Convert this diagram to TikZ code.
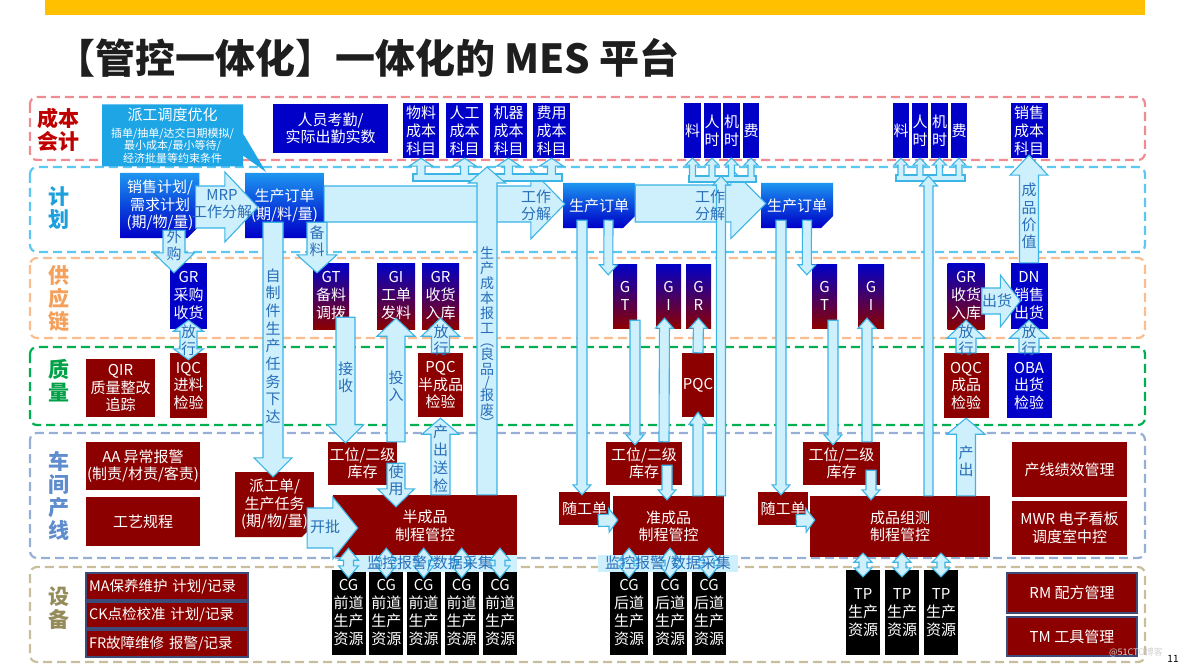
\documentclass[tikz,border=0pt]{standalone}
\usepackage{fontspec}
\setmainfont{Noto Sans CJK SC}
\usetikzlibrary{calc,shapes.misc,shapes.callouts}

\definecolor{goldbar}{RGB}{255,192,0}
\definecolor{dred}{RGB}{140,0,0}
\definecolor{dblue}{RGB}{0,0,200}
\definecolor{skyb}{RGB}{30,150,240}
\definecolor{mblue}{RGB}{10,70,220}
\definecolor{calb}{RGB}{30,165,230}
\definecolor{purp}{RGB}{70,0,100}
\definecolor{afill}{RGB}{205,240,252}
\definecolor{aline}{RGB}{60,180,230}
\definecolor{atext}{RGB}{40,110,185}
\definecolor{mbord}{RGB}{60,75,120}
% lane colours
\definecolor{lcost}{RGB}{240,140,145}
\definecolor{lplan}{RGB}{90,200,240}
\definecolor{lsup}{RGB}{248,190,145}
\definecolor{lqual}{RGB}{0,176,80}
\definecolor{lshop}{RGB}{150,175,215}
\definecolor{ldev}{RGB}{200,190,155}
\definecolor{tcost}{RGB}{192,0,0}
\definecolor{tplan}{RGB}{30,160,220}
\definecolor{tsup}{RGB}{245,160,90}
\definecolor{tqual}{RGB}{0,160,70}
\definecolor{tshop}{RGB}{95,140,205}
\definecolor{tdev}{RGB}{150,140,90}

% block arrow: [opts]{from}{to}{body half}{head half}{head length}
\newcommand{\blk}[6][]{%
  \draw[arr,#1] let \p1=#2, \p2=#3,
    \n1={atan2(\y2-\y1,\x2-\x1)}, \n2={veclen(\x2-\x1,\y2-\y1)} in
    ($(\p1)+(\n1+90:#4pt)$)
    -- ($(\p1)+(\n1:\n2-#6pt)+(\n1+90:#4pt)$)
    -- ($(\p1)+(\n1:\n2-#6pt)+(\n1+90:#5pt)$)
    -- (\p2)
    -- ($(\p1)+(\n1:\n2-#6pt)+(\n1-90:#5pt)$)
    -- ($(\p1)+(\n1:\n2-#6pt)+(\n1-90:#4pt)$)
    -- ($(\p1)+(\n1-90:#4pt)$) -- cycle;}
% double headed block arrow
\newcommand{\dblk}[6][]{%
  \draw[arr,#1] let \p1=#2, \p2=#3,
    \n1={atan2(\y2-\y1,\x2-\x1)}, \n2={veclen(\x2-\x1,\y2-\y1)} in
    (\p1)
    -- ($(\p1)+(\n1:#6pt)+(\n1+90:#5pt)$)
    -- ($(\p1)+(\n1:#6pt)+(\n1+90:#4pt)$)
    -- ($(\p1)+(\n1:\n2-#6pt)+(\n1+90:#4pt)$)
    -- ($(\p1)+(\n1:\n2-#6pt)+(\n1+90:#5pt)$)
    -- (\p2)
    -- ($(\p1)+(\n1:\n2-#6pt)+(\n1-90:#5pt)$)
    -- ($(\p1)+(\n1:\n2-#6pt)+(\n1-90:#4pt)$)
    -- ($(\p1)+(\n1:#6pt)+(\n1-90:#4pt)$)
    -- ($(\p1)+(\n1:#6pt)+(\n1-90:#5pt)$)
    -- cycle;}

\begin{document}
\begin{tikzpicture}[x=1pt,y=-1pt,
    lane/.style={dash pattern=on 9pt off 5pt, line width=2.2pt, rounded corners=7pt},
    lanelbl/.style={font=\fontsize{21}{23}\selectfont\bfseries, align=center, inner sep=0pt},
    sz/.style 2 args={minimum width=#1pt, minimum height=#2pt},
    bx/.style={inner sep=0pt, align=center, text=white, font=\fontsize{15}{17.5}\selectfont},
    rbox/.style={bx, fill=dred},
    bbox/.style={bx, fill=dblue},
    cbox/.style={bbox, font=\fontsize{15}{18}\selectfont},
    kbox/.style={bx, fill=black, font=\fontsize{15}{18.3}\selectfont},
    gbox/.style={bx, top color=dblue, bottom color=dred, middle color=purp, font=\fontsize{15}{18}\selectfont},
    cham/.style={chamfered rectangle, chamfered rectangle corners=south east,
      chamfered rectangle xsep=6pt, chamfered rectangle ysep=6pt},
    pbox/.style={bx, cham, top color=skyb, bottom color=dblue, middle color=mblue},
    mbox/.style={rbox, draw=mbord, line width=1.5pt},
    ebox/.style={mbox, text width=156pt, align=left, font=\fontsize{14.5}{16}\selectfont},
    arr/.style={fill=afill, draw=aline, line width=1.1pt},
    atxt/.style={text=atext, font=\fontsize{15}{17}\selectfont, align=center, inner sep=0pt},
  ]
\useasboundingbox (0,0) rectangle (1184,666);

% --- title ---
\fill[goldbar] (45,0) rectangle (1145,15);
\node[anchor=west, inner sep=0pt, text={rgb,255:red,30;green,30;blue,30},
  font=\fontsize{40}{44}\selectfont\bfseries] (title) at (55,58) {【管控一体化】一体化的 MES 平台};

% --- lanes ---
\draw[lane, lcost] (30,97) rectangle (1145,160);
\draw[lane, lplan] (30,167) rectangle (1145,252);
\draw[lane, lsup] (30,258) rectangle (1145,338);
\draw[lane, lqual] (30,347) rectangle (1145,425);
\draw[lane, lshop] (30,433) rectangle (1145,558);
\draw[lane, ldev] (30,567) rectangle (1145,662);
\node[lanelbl, tcost] (lcost) at (58,130) {成本\\会计};
\node[lanelbl, tplan] (lplan) at (59,208) {计\\划};
\node[lanelbl, tsup] (lsup) at (59,299) {供\\应\\链};
\node[lanelbl, tqual] (lqual) at (59,381) {质\\量};
\node[lanelbl, tshop] (lshop) at (59,496) {车\\间\\产\\线};
\node[lanelbl, tdev] (ldev) at (59,608) {设\\备};

% --- 成本会计 ---
\node[bx, rectangle callout, fill=calb, sz={141}{62}, font=\fontsize{11}{12.5}\selectfont,
  callout absolute pointer={(266,172)}, callout pointer width=22pt] (pgyh) at (172.5,135.5)
  {{\fontsize{15}{15}\selectfont 派工调度优化}\\[4pt]插单/抽单/达交日期模拟/\\最小成本/最小等待/\\经济批量等约束条件};
\node[bbox, sz={115}{49}] (kq) at (330.5,128.5) {人员考勤/\\实际出勤实数};
\node[cbox, sz={36}{55}] (cm) at (421,130.5) {物料\\成本\\科目};
\node[cbox, sz={37}{55}] (cr) at (464.5,130.5) {人工\\成本\\科目};
\node[cbox, sz={37}{55}] (cj) at (508.5,130.5) {机器\\成本\\科目};
\node[cbox, sz={37}{55}] (cf) at (551.5,130.5) {费用\\成本\\科目};
\node[cbox, sz={17}{55}] (al) at (692.5,130.5) {料};
\node[cbox, sz={17}{55}] (ar) at (712,130.5) {人\\时};
\node[cbox, sz={17}{55}] (aj) at (731.5,130.5) {机\\时};
\node[cbox, sz={16}{55}] (af) at (751,130.5) {费};
\node[cbox, sz={16}{55}] (bl) at (901,130.5) {料};
\node[cbox, sz={16}{55}] (br) at (920,130.5) {人\\时};
\node[cbox, sz={17}{55}] (bj) at (939.5,130.5) {机\\时};
\node[cbox, sz={16}{55}] (bf) at (959,130.5) {费};
\node[cbox, sz={37}{55}] (xscb) at (1029,130.5) {销售\\成本\\科目};

% --- 计划 ---
\node[pbox, sz={72}{65}] (xsjh) at (160,205.5) {销售计划/\\需求计划\\(期/物/量)};
\node[pbox, sz={75}{65}] (sddd1) at (284.5,205.5) {生产订单\\(期/料/量)};
\node[pbox, sz={68}{45}] (sddd2) at (599,205.5) {生产订单};
\node[pbox, sz={68}{45}] (sddd3) at (797,205.5) {生产订单};

% --- 供应链 ---
\node[cbox, sz={37}{66}] (grcg) at (188.5,296) {GR\\采购\\收货};
\node[gbox, sz={36}{66}] (gt1) at (331,296) {GT\\备料\\调拨};
\node[gbox, sz={38}{66}] (gi1) at (396,296) {GI\\工单\\发料};
\node[gbox, sz={37}{66}] (gr1) at (440.5,296) {GR\\收货\\入库};
\node[gbox, sz={24}{64}] (gt2) at (625,296) {G\\T};
\node[gbox, sz={25}{64}] (gi2) at (668.5,296) {G\\I};
\node[gbox, sz={25}{64}] (gr2) at (698.5,296) {G\\R};
\node[gbox, sz={25}{64}] (gt3) at (824.5,296) {G\\T};
\node[gbox, sz={26}{64}] (gi3) at (871,296) {G\\I};
\node[gbox, sz={37}{66}] (gr3) at (966,296) {GR\\收货\\入库};
\node[cbox, sz={37}{66}] (dn) at (1029,296) {DN\\销售\\出货};

% --- 质量 ---
\node[rbox, sz={69}{58}] (qir) at (120.5,388) {QIR\\质量整改\\追踪};
\node[rbox, sz={37}{65}] (iqc) at (188.5,385.5) {IQC\\进料\\检验};
\node[rbox, sz={45}{64}] (pqc1) at (440.5,385) {PQC\\半成品\\检验};
\node[rbox, sz={32}{64}] (pqc2) at (698,385) {PQC};
\node[rbox, sz={45}{65}] (oqc) at (966,385.5) {OQC\\成品\\检验};
\node[bbox, sz={45}{65}] (oba) at (1029,385.5) {OBA\\出货\\检验};

% --- 车间产线 ---
\node[rbox, sz={114}{48}] (aa) at (143,466) {AA 异常报警\\(制责/材责/客责)};
\node[rbox, sz={114}{49}] (gygc) at (143,521.5) {工艺规程};
\node[rbox, cham, sz={75}{65}] (pgd) at (274.5,504.5) {派工单/\\生产任务\\(期/物/量)};
\node[rbox, sz={69}{43}] (gw1) at (362.5,463.5) {工位/二级\\库存};
\node[rbox, sz={184}{62}] (bcp) at (425,526) {半成品\\制程管控};
\node[rbox, sz={76}{43}] (gw2) at (644,463.5) {工位/二级\\库存};
\node[rbox, sz={51}{33}] (sgd2) at (584.5,508.5) {随工单};
\node[rbox, sz={111}{61}] (zcp) at (668.5,526.5) {准成品\\制程管控};
\node[rbox, sz={77}{43}] (gw3) at (841.5,463.5) {工位/二级\\库存};
\node[rbox, sz={50}{33}] (sgd3) at (783,508.5) {随工单};
\node[rbox, sz={180}{61}] (cpzc) at (900,526.5) {成品组测\\制程管控};
\node[rbox, sz={115}{55}] (cxjx) at (1069.5,469.5) {产线绩效管理};
\node[rbox, sz={115}{54}] (mwr) at (1069.5,528) {MWR 电子看板\\调度室中控};

% --- 设备 ---
\node[ebox, sz={162}{27}] (ma) at (167,586.5) {MA保养维护 计划/记录};
\node[ebox, sz={162}{26}] (ck) at (167,615) {CK点检校准 计划/记录};
\node[ebox, sz={162}{27}] (fr) at (167,643.5) {FR故障维修 报警/记录};
\node[mbox, sz={130}{40}] (rm) at (1072,593) {RM 配方管理};
\node[mbox, sz={130}{39}] (tm) at (1072,636.5) {TM 工具管理};
\foreach \i/\cx in {1/348.5,2/386.3,3/423.7,4/461.7,5/500}
  \node[kbox, sz={34}{85}] (cg\i) at (\cx,612.5) {CG\\前道\\生产\\资源};
\foreach \i/\cx/\w in {1/629/38,2/670/34,3/709/34}
  \node[kbox, sz={\w}{85}] (cgh\i) at (\cx,612.5) {CG\\后道\\生产\\资源};
\foreach \i/\cx in {1/863,2/902,3/941}
  \node[kbox, sz={34}{85}] (tp\i) at (\cx,612.5) {TP\\生产\\资源};

% --- 计划 big arrows ---
\blk{($(xsjh.east)+(-4,1.5)$)}{($(sddd1.west)+(13,1.5)$)}{21}{35}{33}
\blk{($(sddd1.east)+(0,-1.5)$)}{($(sddd2.west)+(2,-1.5)$)}{18}{35}{34}
\blk{($(sddd2.east)+(0,-2)$)}{($(sddd3.west)+(5,-2)$)}{18.5}{35}{35}

% --- cost forks ---
\coordinate (fk1) at (487,177);
\coordinate (fk2) at (721,179);
\coordinate (fk3) at (928.5,178);
\draw[arr] (413,174) rectangle (562,181);
\foreach \c in {cm,cr,cj,cf} {\blk{(\c.south |- fk1)}{(\c.south)}{4}{12}{8}}
\fill[afill] (414,175) rectangle (561,180);
\draw[arr] (689,176) rectangle (756,182);
\foreach \c in {al,ar,aj,af} {\blk{(\c.south |- fk2)}{(\c.south)}{3}{7}{7}}
\fill[afill] (690,177) rectangle (755,181);
\draw[arr] (896,175) rectangle (965,181);
\foreach \c in {bl,br,bj,bf} {\blk{(\c.south |- fk3)}{(\c.south)}{3}{7}{7}}
\fill[afill] (897,176) rectangle (964,180);
\blk{(bcp.north -| fk1)}{($(fk1)+(0,-10)$)}{10}{18.5}{16}
\blk{(zcp.north -| fk2)}{($(fk2)+(0,-3)$)}{4.5}{8}{9}
\blk{(cpzc.north -| fk3)}{($(fk3)+(0,-2)$)}{4.5}{9}{10}

% --- column 1 ---
\blk{($(xsjh.south)+(14,-8)$)}{($(grcg.north)+(-14.5,10)$)}{11}{20.5}{20}
\dblk{($(grcg.south)+(0,-9)$)}{($(iqc.north)+(0,7)$)}{8.5}{15}{11}
\blk{($(sddd1.south)+(32.5,-16)$)}{($(gt1.north)+(-14,10)$)}{10}{20}{18}
\blk{($(sddd1.south)+(-11.5,-16)$)}{($(pgd.north)+(-1.5,5)$)}{10}{19}{19}
\blk{($(gt1.south)+(14.5,-12)$)}{($(gw1.north)+(-17,1)$)}{9.5}{18}{18}
\blk{(gi1.south |- gw1.north)}{($(gi1.south)+(0,-11)$)}{9}{19}{18}
\blk{(pqc1.north)}{($(gr1.south)+(0,-11)$)}{9}{19}{18}
\blk{(pqc1.south |- bcp.north)}{($(pqc1.south)+(0,1)$)}{9.5}{18.5}{16}
\blk{($(gw1.south)+(33.5,-22)$)}{($(bcp.north)+(-29,12)$)}{9}{18.5}{18}
\blk{($(pgd.east)+(-7,23.5)$)}{($(bcp.west)+(25,2)$)}{20}{31}{25}

% --- column 2 ---
\blk{($(sddd2.south)+(-17,-8)$)}{($(sgd2.north)+(-2.5,3)$)}{5}{9}{10}
\blk{($(sddd2.south)+(9.5,-8)$)}{($(gt2.north west)+(-4.5,11)$)}{4.5}{9}{10}
\blk{($(gt2.south)+(10,-8)$)}{($(gw2.north)+(-9,3)$)}{5}{9}{10}
\blk{($(gw2.north)+(20,0)$)}{($(gi2.south)+(-4,-10)$)}{5}{9}{10}
\blk{($(gw2.south)+(23,-20)$)}{($(zcp.north)+(-1.5,4)$)}{5}{9}{10}
\blk{(pqc2.south |- zcp.north)}{($(pqc2.south)+(0,-5)$)}{5}{9}{12}
\blk{(pqc2.north)}{($(gr2.south)+(0,-10)$)}{5}{9}{10}
\blk{($(sgd2.east)+(-12,12)$)}{($(zcp.west)+(5,-6.5)$)}{6}{12}{9}

% --- column 3 ---
\blk{($(sddd3.south)+(-16,-8)$)}{($(sgd3.north)+(-2,3)$)}{5}{9}{10}
\blk{($(sddd3.south)+(10,-8)$)}{($(gt3.north west)+(-5,11)$)}{4.5}{9}{10}
\blk{($(gt3.south)+(8.5,-8)$)}{($(gw3.north)+(-8.5,3)$)}{5}{9}{10}
\blk{($(gw3.north)+(25.5,0)$)}{($(gi3.south)+(-4,-10)$)}{5}{9}{10}
\blk{($(gw3.south)+(29.5,-15)$)}{($(cpzc.north)+(-29,4)$)}{5}{9}{10}
\blk{(oqc.south |- cpzc.north)}{(oqc.south)}{9.5}{19}{16}
\blk{($(sgd3.east)+(-12,12)$)}{($(cpzc.west)+(5,-6.5)$)}{6}{12}{9}

% --- right side ---
\blk{(oqc.north)}{($(gr3.south)+(0,-9)$)}{10}{19}{18}
\blk{(oba.north)}{($(dn.south)+(0,-9)$)}{10}{19.5}{18}
\blk{($(gr3.east)+(-3,5)$)}{($(dn.west)+(10,5)$)}{13}{26}{20}
\blk{(dn.north)}{($(xscb.south)+(0,-3)$)}{9.5}{19}{20}

% --- 监控报警 / data links ---
\fill[afill] (345,555) rectangle (517,572);
\fill[afill] (598,555) rectangle (738,572);
\foreach \i in {1,...,5} {\dblk{($(cg\i.north |- bcp.south)+(0,-9)$)}{($(cg\i.north)+(0,8)$)}{5}{10}{12}}
\foreach \i in {1,2,3} {\dblk{($(cgh\i.north |- zcp.south)+(0,-9)$)}{($(cgh\i.north)+(0,8)$)}{5}{10}{12}}
\foreach \i in {1,2,3} {\dblk{($(tp\i.north |- cpzc.south)+(0,-4)$)}{($(tp\i.north)+(0,7)$)}{4}{9}{9}}
\node[atxt] (tjk1) at (430,564) {监控报警/数据采集};
\node[atxt] (tjk2) at (668,564) {监控报警/数据采集};

% --- arrow labels ---
\node[atxt] (tmrp) at (222,204) {MRP\\工作分解};
\node[atxt] (tgz1) at (536,205) {工作\\分解};
\node[atxt] (tgz2) at (710,205) {工作\\分解};
\node[atxt] (twg) at (174,245) {外\\购};
\node[atxt] (tfx0) at (188.5,340) {放\\行};
\node[atxt] (tbl) at (317,241) {备\\料};
\node[atxt, font=\fontsize{15}{17.7}\selectfont] (tzzj) at (273,346) {自\\制\\件\\生\\产\\任\\务\\下\\达};
\node[atxt] (tjs) at (345.5,377) {接\\收};
\node[atxt] (ttr) at (396,386) {投\\入};
\node[atxt] (tfx1) at (441,340) {放\\行};
\node[atxt, font=\fontsize{15}{18}\selectfont] (tccsj) at (440.5,459) {产\\出\\送\\检};
\node[atxt, font=\fontsize{14}{15}\selectfont] (tsccb) at (487,337.5)
  {生\\产\\成\\本\\报\\工\\[-2pt]︵\\[-2pt]良\\品\\[-2pt]/\\[-2pt]报\\废\\[-2pt]︶};
\node[atxt] (tsy) at (396,480) {使\\用};
\node[atxt] (tkp) at (325,527) {开批};
\node[atxt] (tfx2) at (966,340) {放\\行};
\node[atxt] (tfx3) at (1029,340) {放\\行};
\node[atxt] (tch) at (997,301) {出货};
\node[atxt, font=\fontsize{15}{17.3}\selectfont] (tcpjz) at (1029,216) {成\\品\\价\\值};
\node[atxt] (tcc) at (966,461) {产\\出};

% --- page footer ---
\node[text=gray!35, font=\fontsize{9}{9}\selectfont, inner sep=0pt] (wm) at (1136,652) {@51CTO博客};
\node[font=\fontsize{10}{10}\selectfont, inner sep=0pt] (pgno) at (1173,659) {11};
\end{tikzpicture}
\end{document}
